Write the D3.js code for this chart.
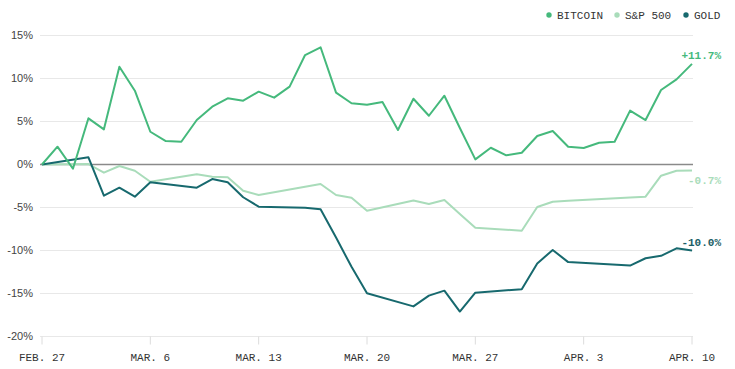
<!DOCTYPE html>
<html>
<head>
<meta charset="utf-8">
<script src="https://cdn.jsdelivr.net/npm/d3@7"></script>
<style>
  html, body { margin: 0; padding: 0; background: #fff; }
  svg { display: block; }
</style>
</head>
<body>
<svg id="chart" width="735" height="369"></svg>
<script>
// ---------- DATA ----------
const seriesNames = ["BITCOIN", "S&P 500", "GOLD"];
const seriesColors = ["#45b97c", "#a9dcba", "#17696e"];

// Bitcoin trades every day: Feb 27 .. Apr 10
const btcDates = ["02-27","02-28","03-01","03-02","03-03","03-04","03-05","03-06","03-07","03-08",
  "03-09","03-10","03-11","03-12","03-13","03-14","03-15","03-16","03-17","03-18","03-19","03-20",
  "03-21","03-22","03-23","03-24","03-25","03-26","03-27","03-28","03-29","03-30","03-31","04-01",
  "04-02","04-03","04-04","04-05","04-06","04-07","04-08","04-09","04-10"];
const btcValues = [0, 2.07, -0.49, 5.37, 4.09, 11.37, 8.58, 3.81, 2.73, 2.65,
  5.17, 6.72, 7.70, 7.42, 8.47, 7.77, 9.05, 12.73, 13.63, 8.35, 7.12, 6.95,
  7.27, 4.01, 7.65, 5.67, 8.00, 4.25, 0.60, 1.95, 1.07, 1.37, 3.31, 3.90,
  2.07, 1.92, 2.53, 2.65, 6.26, 5.17, 8.66, 9.90, 11.70];

// Markets: trading days only
const mktDates = ["02-27","03-02","03-03","03-04","03-05","03-06","03-09","03-10","03-11","03-12",
  "03-13","03-16","03-17","03-18","03-19","03-20","03-23","03-24","03-25","03-26","03-27",
  "03-30","03-31","04-01","04-02","04-06","04-07","04-08","04-09","04-10"];
const spxValues = [0, 0.05, -0.95, -0.17, -0.72, -2.00, -1.14, -1.42, -1.49, -3.05,
  -3.55, -2.58, -2.27, -3.55, -3.86, -5.37, -4.19, -4.60, -4.13, -5.75, -7.35,
  -7.70, -4.95, -4.33, -4.22, -3.84, -3.74, -1.30, -0.72, -0.70];
const goldValues = [0, 0.84, -3.63, -2.70, -3.74, -2.07, -2.70, -1.69, -2.07, -3.81,
  -4.90, -5.03, -5.20, -8.50, -11.90, -14.98, -16.50, -15.25, -14.67, -17.10, -14.90,
  -14.50, -11.50, -9.94, -11.35, -11.75, -10.90, -10.62, -9.75, -10.00];

const endLabels = ["+11.7%", "-0.7%", "-10.0%"];

const yTicks = [15, 10, 5, 0, -5, -10, -15, -20];
const xTickDates = ["02-27","03-06","03-13","03-20","03-27","04-03","04-10"];
const xTickLabels = ["FEB. 27","MAR. 6","MAR. 13","MAR. 20","MAR. 27","APR. 3","APR. 10"];

// ---------- CHART ----------
const parse = s => new Date(Date.UTC(2015, +s.slice(0,2) - 1, +s.slice(3,5)));
const svg = d3.select("#chart");
const mono = "'Liberation Mono', 'DejaVu Sans Mono', monospace";
const sans = "'Liberation Sans', Arial, sans-serif";

const x = d3.scaleUtc()
  .domain([parse("02-27"), parse("04-10")])
  .range([42, 692]);
const y = d3.scaleLinear()
  .domain([-20, 15])
  .range([336.5, 35.5]);

// gridlines
svg.append("g").selectAll("line")
  .data(yTicks.filter(d => d !== 0))
  .join("line")
  .attr("x1", 40).attr("x2", 693)
  .attr("y1", d => y(d)).attr("y2", d => y(d))
  .attr("stroke", "#e8e8e8").attr("stroke-width", 1.2);

// y labels
svg.append("g").selectAll("text")
  .data(yTicks)
  .join("text")
  .attr("x", 33).attr("y", d => y(d))
  .attr("dy", "0.35em")
  .attr("text-anchor", "end")
  .attr("font-family", sans).attr("font-size", 11)
  .attr("fill", "#444")
  .text(d => d + "%");

// x axis ticks
const xTickG = svg.append("g");
xTickG.selectAll("line")
  .data(xTickDates)
  .join("line")
  .attr("x1", d => x(parse(d))).attr("x2", d => x(parse(d)))
  .attr("y1", y(-20)).attr("y2", y(-20) + 8)
  .attr("stroke", "#dcdcdc").attr("stroke-width", 1);
xTickG.selectAll("text")
  .data(xTickDates)
  .join("text")
  .attr("x", d => x(parse(d))).attr("y", 361)
  .attr("text-anchor", "middle")
  .attr("font-family", mono).attr("font-size", 11)
  .attr("fill", "#333")
  .text((d, i) => xTickLabels[i]);

// zero line
svg.append("line")
  .attr("x1", 40).attr("x2", 693)
  .attr("y1", y(0)).attr("y2", y(0))
  .attr("stroke", "#8a8a8a").attr("stroke-width", 1.5);

// lines
const line = d3.line().x(d => x(d[0])).y(d => y(d[1]));
const series = [
  btcDates.map((d, i) => [parse(d), btcValues[i]]),
  mktDates.map((d, i) => [parse(d), spxValues[i]]),
  mktDates.map((d, i) => [parse(d), goldValues[i]])
];
// draw S&P first, then gold, then bitcoin
[1, 2, 0].forEach(k => {
  svg.append("path")
    .datum(series[k])
    .attr("d", line)
    .attr("fill", "none")
    .attr("stroke", seriesColors[k])
    .attr("stroke-width", 2)
    .attr("stroke-linejoin", "round");
});

// end labels
const endOffsets = [-9, 10, -8];
series.forEach((s, k) => {
  const last = s[s.length - 1];
  svg.append("text")
    .attr("x", 721)
    .attr("y", y(last[1]) + endOffsets[k])
    .attr("dy", "0.35em")
    .attr("text-anchor", "end")
    .attr("font-family", mono).attr("font-size", 11)
    .attr("font-weight", "bold")
    .attr("fill", k === 2 ? "#1b5e66" : seriesColors[k])
    .text(endLabels[k]);
});

// legend
const legendX = [549, 617, 686];
const lg = svg.append("g");
seriesNames.forEach((name, k) => {
  lg.append("circle")
    .attr("cx", legendX[k]).attr("cy", 15).attr("r", 2.7)
    .attr("fill", seriesColors[k]);
  lg.append("text")
    .attr("x", legendX[k] + 8).attr("y", 15)
    .attr("dy", "0.35em")
    .attr("font-family", mono).attr("font-size", 11)
    .attr("fill", "#333")
    .text(name);
});
</script>
</body>
</html>
